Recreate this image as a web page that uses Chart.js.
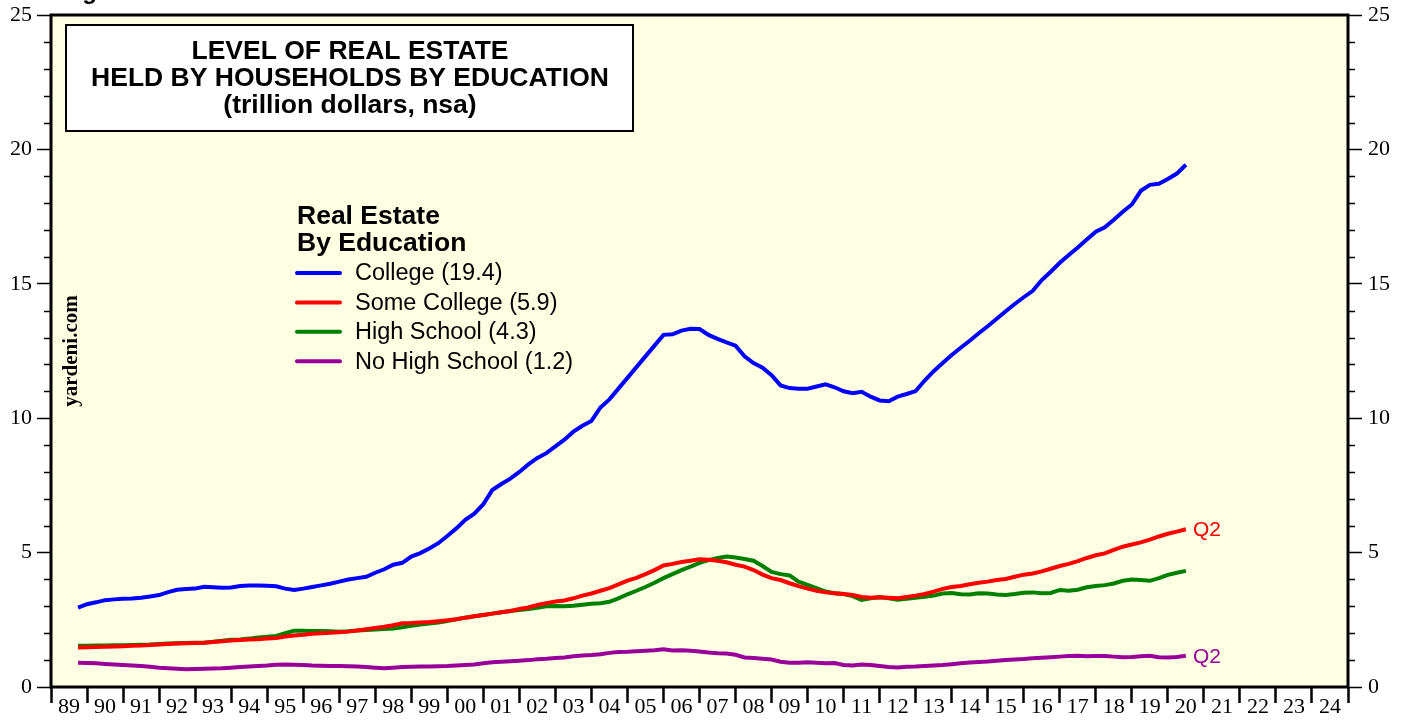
<!DOCTYPE html>
<html lang="en">
<head>
<meta charset="UTF-8" />
<title>Level of Real Estate Held by Households by Education</title>
<script src="https://cdn.jsdelivr.net/npm/chart.js@4"></script>
<style>
  body { margin: 0; background: #fff; }
  canvas { display: block; }
</style>
</head>
<body>
<canvas id="reByEdu" width="1408" height="721"></canvas>

<script>
// quarterly values, 1989Q3 .. 2020Q2, trillion dollars (nsa), plotted at quarter end
const firstQuarterEnd = 1989.75;

const college = [
  2.95, 3.08,
  3.15, 3.23, 3.26, 3.28,   3.29, 3.32, 3.37, 3.42,   3.53, 3.62, 3.65, 3.66,
  3.73, 3.71, 3.69, 3.70,   3.76, 3.78, 3.78, 3.77,   3.75, 3.66, 3.61, 3.66,
  3.72, 3.78, 3.84, 3.92,   4.00, 4.05, 4.10, 4.25,   4.38, 4.55, 4.62, 4.85,
  4.98, 5.15, 5.35, 5.62,   5.90, 6.22, 6.45, 6.80,   7.33, 7.55, 7.75, 8.00,
  8.28, 8.52, 8.70, 8.95,   9.20, 9.50, 9.72, 9.90,   10.40, 10.70, 11.10, 11.50,
  11.90, 12.30, 12.70, 13.10,   13.12, 13.26, 13.33, 13.32,   13.10, 12.95, 12.82, 12.70,
  12.30, 12.05, 11.88, 11.60,   11.22, 11.12, 11.10, 11.10,   11.18, 11.26, 11.15, 11.00,
  10.93, 10.98, 10.80, 10.66,   10.63, 10.80, 10.90, 11.01,   11.40, 11.75, 12.05, 12.35,
  12.62, 12.88, 13.16, 13.42,   13.70, 13.98, 14.25, 14.50,   14.74, 15.14, 15.45, 15.78,
  16.07, 16.35, 16.65, 16.94,   17.10, 17.38, 17.68, 17.95,   18.46, 18.68, 18.72, 18.90,
  19.10, 19.43
];

const someCollege = [
  1.47, 1.48,
  1.49, 1.50, 1.51, 1.52,   1.53, 1.54, 1.56, 1.58,   1.60, 1.62, 1.63, 1.64,
  1.65, 1.67, 1.70, 1.73,   1.75, 1.77, 1.78, 1.80,   1.82, 1.88, 1.92, 1.94,
  1.98, 2.00, 2.02, 2.04,   2.06, 2.10, 2.15, 2.20,   2.24, 2.30, 2.37, 2.38,
  2.40, 2.42, 2.45, 2.48,   2.52, 2.58, 2.63, 2.68,   2.73, 2.78, 2.83, 2.90,
  2.96, 3.05, 3.12, 3.18,   3.22, 3.30, 3.40, 3.48,   3.58, 3.68, 3.82, 3.96,
  4.06, 4.20, 4.35, 4.52,   4.58, 4.65, 4.70, 4.75,   4.73, 4.70, 4.64, 4.55,
  4.48, 4.35, 4.18, 4.05,   3.98, 3.86, 3.75, 3.66,   3.58, 3.52, 3.49, 3.46,
  3.42, 3.35, 3.32, 3.34,   3.32, 3.30, 3.35, 3.40,   3.46, 3.55, 3.65, 3.72,
  3.76, 3.82, 3.88, 3.92,   3.98, 4.02, 4.10, 4.18,   4.22, 4.30, 4.40, 4.50,
  4.58, 4.68, 4.80, 4.90,   4.97, 5.10, 5.22, 5.30,   5.38, 5.48, 5.60, 5.70,
  5.78, 5.87
];

const highSchool = [
  1.53, 1.53,
  1.54, 1.54, 1.55, 1.55,   1.56, 1.57, 1.58, 1.60,   1.62, 1.63, 1.64, 1.65,
  1.65, 1.68, 1.72, 1.76,   1.77, 1.80, 1.84, 1.87,   1.90, 2.00, 2.09, 2.09,
  2.08, 2.08, 2.07, 2.06,   2.07, 2.10, 2.12, 2.14,   2.16, 2.18, 2.22, 2.28,
  2.32, 2.36, 2.40, 2.45,   2.52, 2.58, 2.63, 2.68,   2.73, 2.78, 2.83, 2.86,
  2.90, 2.95, 3.00, 3.01,   3.00, 3.02, 3.06, 3.10,   3.12, 3.17, 3.30, 3.45,
  3.58, 3.72, 3.88, 4.05,   4.20, 4.35, 4.48, 4.62,   4.72, 4.80, 4.85, 4.82,
  4.76, 4.70, 4.50, 4.28,   4.20, 4.15, 3.92, 3.80,   3.68, 3.55, 3.49, 3.46,
  3.38, 3.24, 3.30, 3.34,   3.30, 3.25, 3.28, 3.32,   3.36, 3.40, 3.48, 3.50,
  3.45, 3.44, 3.49, 3.48,   3.44, 3.42, 3.46, 3.51,   3.52, 3.49, 3.50, 3.61,
  3.58, 3.62, 3.71, 3.76,   3.79, 3.85, 3.95, 4.00,   3.98, 3.95, 4.05, 4.17,
  4.25, 4.32
];

const noHighSchool = [
  0.90, 0.89,
  0.88, 0.86, 0.84, 0.82,   0.80, 0.78, 0.75, 0.72,   0.70, 0.68, 0.66, 0.67,
  0.68, 0.69, 0.70, 0.72,   0.74, 0.76, 0.78, 0.80,   0.83, 0.84, 0.83, 0.82,
  0.80, 0.79, 0.78, 0.78,   0.77, 0.76, 0.74, 0.72,   0.70, 0.72, 0.74, 0.75,
  0.76, 0.76, 0.77, 0.78,   0.80, 0.82, 0.84, 0.88,   0.92, 0.94, 0.96, 0.98,
  1.00, 1.03, 1.05, 1.08,   1.10, 1.14, 1.17, 1.19,   1.22, 1.27, 1.30, 1.31,
  1.33, 1.35, 1.37, 1.40,   1.36, 1.37, 1.35, 1.32,   1.28, 1.26, 1.25, 1.20,
  1.10, 1.08, 1.05, 1.02,   0.94, 0.90, 0.90, 0.92,   0.90, 0.88, 0.89, 0.82,
  0.80, 0.84, 0.82, 0.78,   0.74, 0.73, 0.75, 0.76,   0.78, 0.80, 0.82, 0.85,
  0.88, 0.91, 0.93, 0.95,   0.98, 1.00, 1.02, 1.04,   1.07, 1.09, 1.11, 1.13,
  1.15, 1.16, 1.14, 1.15,   1.15, 1.13, 1.11, 1.12,   1.14, 1.16, 1.11, 1.10,
  1.12, 1.16
];

const seriesNames = ["College", "Some College", "High School", "No High School"];
const seriesColors = ["#0000ff", "#ff0000", "#008000", "#990099"];
const yearLabels = ["89","90","91","92","93","94","95","96","97","98","99","00","01","02","03","04","05","06",
                    "07","08","09","10","11","12","13","14","15","16","17","18","19","20","21","22","23","24"];
const quarterTag = "Q2";
const taggedSeries = [1, 3]; // which lines get the Q2 tag

const toPoints = (vals) => vals.map((v, i) => ({ x: firstQuarterEnd + i * 0.25, y: v }));
const allSeries = [college, someCollege, highSchool, noHighSchool];

const plotBg = "#ffffe3";
const serif = "'Liberation Serif', 'DejaVu Serif', serif";
const sans = "'Liberation Sans', Arial, sans-serif";

const decorations = {
  id: "decorations",
  beforeDraw(chart) {
    const { ctx, chartArea: a } = chart;
    ctx.save();
    ctx.fillStyle = "#fff";
    ctx.fillRect(0, 0, chart.width, chart.height);
    ctx.fillStyle = plotBg;
    ctx.fillRect(a.left, a.top, a.right - a.left, a.bottom - a.top);
    ctx.restore();
  },
  afterDraw(chart) {
    const { ctx, chartArea: a, scales } = chart;
    const yl = scales.y;
    ctx.save();

    // frame
    ctx.strokeStyle = "#000";
    ctx.lineWidth = 3;
    ctx.strokeRect(a.left, a.top, a.right - a.left, a.bottom - a.top);

    // minor ticks on both y axes
    ctx.lineWidth = 1.5;
    for (let v = 0; v <= 25; v++) {
      if (v % 5 === 0) continue;
      const py = Math.round(yl.getPixelForValue(v)) + 0.5;
      ctx.beginPath();
      ctx.moveTo(a.left - 7, py); ctx.lineTo(a.left, py);
      ctx.moveTo(a.right, py); ctx.lineTo(a.right + 7, py);
      ctx.stroke();
    }

    // cut-off figure caption at the very top
    ctx.fillStyle = "#000";
    ctx.font = "bold 24px " + sans;
    ctx.textBaseline = "alphabetic";
    ctx.textAlign = "left";
    ctx.fillText("Figure", 61, -1);

    // title box
    ctx.fillStyle = "#fff";
    ctx.fillRect(66, 25, 567, 106);
    ctx.lineWidth = 2;
    ctx.strokeRect(66, 25, 567, 106);
    ctx.fillStyle = "#000";
    ctx.font = "bold 26.5px " + sans;
    ctx.textAlign = "center";
    ctx.textBaseline = "middle";
    ctx.fillText("LEVEL OF REAL ESTATE", 350, 52);
    ctx.fillText("HELD BY HOUSEHOLDS BY EDUCATION", 350, 79);
    ctx.fillText("(trillion dollars, nsa)", 350, 106);

    // legend
    ctx.textAlign = "left";
    ctx.font = "bold 26.5px " + sans;
    ctx.fillText("Real Estate", 297, 217);
    ctx.fillText("By Education", 297, 244);
    ctx.font = "23.5px " + sans;
    chart.data.datasets.forEach((ds, i) => {
      const ly = 273 + i * 29.4;
      ctx.strokeStyle = ds.borderColor;
      ctx.lineWidth = 4;
      ctx.lineCap = "round";
      ctx.beginPath();
      ctx.moveTo(297, ly); ctx.lineTo(340, ly);
      ctx.stroke();
      const last = ds.data[ds.data.length - 1].y;
      ctx.fillStyle = "#000";
      ctx.fillText(ds.label + " (" + last.toFixed(1) + ")", 355, ly + 1);
    });

    // Q2 tags at line ends
    ctx.font = "21px " + sans;
    taggedSeries.forEach((i) => {
      const meta = chart.getDatasetMeta(i);
      const p = meta.data[meta.data.length - 1];
      ctx.fillStyle = chart.data.datasets[i].borderColor;
      ctx.fillText(quarterTag, p.x + 7, p.y + 1);
    });

    // watermark
    ctx.fillStyle = "#000";
    ctx.font = "bold 21px " + serif;
    ctx.translate(72, 351);
    ctx.rotate(-Math.PI / 2);
    ctx.textAlign = "center";
    ctx.fillText("yardeni.com", 0, 0);

    ctx.restore();
  },
};

const yAxis = (pos, width, pad) => ({
  position: pos,
  min: 0,
  max: 25,
  afterFit: (s) => { s.width = width; s.paddingTop = 0; s.paddingBottom = 0; },
  afterBuildTicks: (s) => { s.ticks = [0, 5, 10, 15, 20, 25].map((v) => ({ value: v })); },
  border: { display: false },
  grid: { drawOnChartArea: false, tickLength: 14, tickWidth: 1.5, tickColor: "#000" },
  ticks: { color: "#000", font: { family: serif, size: 22 }, padding: pad },
});

new Chart(document.getElementById("reByEdu"), {
  type: "line",
  data: {
    datasets: allSeries.map((vals, i) => ({
      label: seriesNames[i],
      data: toPoints(vals),
      borderColor: seriesColors[i],
      borderWidth: 4,
      pointRadius: 0,
      tension: 0,
    })),
  },
  plugins: [decorations],
  options: {
    responsive: false,
    animation: false,
    layout: { padding: { top: 15, left: 0, right: 0, bottom: 0 } },
    plugins: { legend: { display: false }, tooltip: { enabled: false } },
    scales: {
      x: {
        type: "linear",
        min: 1989,
        max: 2025,
        afterFit: (s) => { s.height = 34; s.paddingLeft = 0; s.paddingRight = 0; },
        border: { display: false },
        grid: { drawOnChartArea: false, tickLength: 16, tickWidth: 2.5, tickColor: "#000" },
        ticks: {
          stepSize: 1,
          autoSkip: false,
          maxRotation: 0,
          labelOffset: 18,
          padding: -9,
          color: "#000",
          font: { family: serif, size: 22 },
          callback: (v) => yearLabels[v - 1989] ?? "",
        },
      },
      y: yAxis("left", 51, 5),
      y2: yAxis("right", 60, 6),
    },
  },
});
</script>
</body>
</html>
